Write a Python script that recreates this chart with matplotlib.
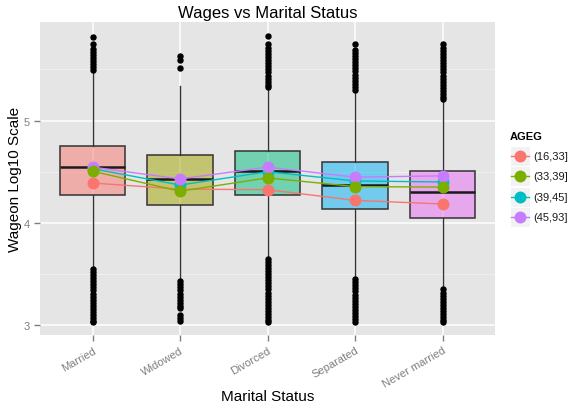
import matplotlib.pyplot as plt
import matplotlib.patches as mpatches
from matplotlib.lines import Line2D

plt.rcParams['font.family'] = ['Liberation Sans', 'DejaVu Sans']

# box statistics per marital status (log10 wage)
status = ["Married", "Widowed", "Divorced", "Separated", "Never married"]
q1 = [4.277, 4.175, 4.277, 4.137, 4.045]
med = [4.544, 4.43, 4.51, 4.37, 4.30]
q3 = [4.755, 4.665, 4.70, 4.60, 4.51]
whislo = [3.57, 3.45, 3.665, 3.46, 3.36]
whishi = [5.47, 5.34, 5.32, 5.28, 5.195]

out_married = [5.82, 5.75, 5.70, 5.67, 5.64, 5.61, 5.58, 5.55, 5.52, 5.49,
               3.55, 3.52, 3.49, 3.46, 3.43, 3.40, 3.37, 3.34, 3.31, 3.28,
               3.25, 3.22, 3.19, 3.16, 3.13, 3.10, 3.07, 3.04, 3.03]
out_widowed = [5.635, 5.59, 5.51,
               3.43, 3.40, 3.37, 3.34, 3.31, 3.28, 3.25, 3.22, 3.19, 3.17,
               3.10, 3.07, 3.04]
out_divorced = [5.825, 5.75, 5.71, 5.68, 5.65, 5.62, 5.59, 5.56, 5.53, 5.50,
                5.47, 5.44, 5.41, 5.38, 5.35, 5.33,
                3.65, 3.62, 3.59, 3.56, 3.53, 3.50, 3.47, 3.44, 3.41, 3.38,
                3.35, 3.32, 3.29, 3.26, 3.23, 3.20, 3.17, 3.14, 3.11, 3.08,
                3.05, 3.03]
out_separated = [5.75, 5.69, 5.66, 5.63, 5.60, 5.57, 5.54, 5.51, 5.48, 5.45,
                 5.42, 5.39, 5.36, 5.33, 5.30,
                 3.45, 3.42, 3.39, 3.36, 3.33, 3.30, 3.27, 3.24, 3.21, 3.18,
                 3.15, 3.12, 3.09, 3.06, 3.03]
out_never = [5.75, 5.71, 5.68, 5.65, 5.62, 5.59, 5.56, 5.53, 5.50, 5.47,
             5.44, 5.41, 5.38, 5.35, 5.32, 5.29, 5.26, 5.23, 5.21,
             3.35, 3.32, 3.29, 3.26, 3.23, 3.20, 3.17, 3.14, 3.11, 3.08,
             3.05, 3.03]
fliers = [out_married, out_widowed, out_divorced, out_separated, out_never]

box_colors = ["#F8766D", "#A3A500", "#00BF7D", "#00B0F6", "#E76BF3"]

# median wage per age group
age_groups = ["(16,33]", "(33,39]", "(39,45]", "(45,93]"]
age_colors = ["#F8766D", "#7CAE00", "#00BFC4", "#C77CFF"]
age_16_33 = [4.39, 4.33, 4.325, 4.22, 4.185]
age_33_39 = [4.505, 4.31, 4.44, 4.355, 4.35]
age_39_45 = [4.53, 4.37, 4.50, 4.41, 4.40]
age_45_93 = [4.545, 4.43, 4.545, 4.447, 4.46]
age_values = [age_16_33, age_33_39, age_39_45, age_45_93]

W, H = 575, 410
fig = plt.figure(figsize=(W / 100, H / 100), dpi=100)
ax = fig.add_axes([40 / W, 1 - 336 / H, 455 / W, (336 - 23.3) / H])
ax.set_facecolor("#E5E5E5")
for s in ax.spines.values():
    s.set_visible(False)

pos = list(range(len(status)))
stats = []
for i in range(len(status)):
    stats.append(dict(med=med[i], q1=q1[i], q3=q3[i], whislo=whislo[i],
                      whishi=whishi[i], fliers=fliers[i]))

bp = ax.bxp(stats, positions=pos, widths=0.75, patch_artist=True,
            showcaps=False, zorder=2,
            boxprops=dict(edgecolor="#333333", linewidth=1.1),
            whiskerprops=dict(color="#333333", linewidth=1.0),
            medianprops=dict(color="#1a1a1a", linewidth=1.8),
            flierprops=dict(marker="o", markerfacecolor="black",
                            markeredgecolor="black", markersize=3.6))
for patch, c in zip(bp["boxes"], box_colors):
    fc = list(plt.matplotlib.colors.to_rgba(c))
    fc[3] = 0.5
    patch.set_facecolor(fc)

for k in [0, 2, 3, 1]:
    ax.plot(pos, age_values[k], color=age_colors[k], lw=1.0,
            marker="o", markersize=8.6, markeredgewidth=0, zorder=4)

ax.set_xlim(-0.6, 4.6)
ax.set_ylim(2.905, 5.96)
ax.set_yticks([3, 4, 5])
ax.set_yticklabels(["3", "4", "5"])
ax.set_yticks([3.5, 4.5, 5.5], minor=True)
ax.set_xticks(pos)
ax.set_xticklabels(status, rotation=30, ha="right", va="top",
                   rotation_mode="anchor")
ax.grid(True, which="major", color="white", linewidth=1.1, zorder=0)
ax.grid(True, which="minor", axis="y", color="#F2F2F2", linewidth=0.6)
ax.set_axisbelow(True)
ax.tick_params(axis="both", which="major", colors="#7F7F7F", length=4,
               width=1, labelsize=8, labelcolor="#7F7F7F")
ax.tick_params(axis="y", which="minor", length=0)
ax.tick_params(axis="x", pad=3)

ax.set_title("Wages vs Marital Status", fontsize=12, pad=4)
ax.set_xlabel("Marital Status", fontsize=11, labelpad=0)
ax.set_ylabel("Wageon Log10 Scale", fontsize=11, labelpad=1)

# legend drawn in pixel units
lax = fig.add_axes([0, 0, 1, 1], facecolor="none")
lax.set_xlim(0, W)
lax.set_ylim(H, 0)
lax.axis("off")
lax.text(510, 137, "AGEG", fontsize=8, fontweight="bold", va="center",
         ha="left")
for i, (lab, c) in enumerate(zip(age_groups, age_colors)):
    yc = 157 + i * 20.3
    lax.add_patch(mpatches.Rectangle((510, yc - 10), 20, 20,
                                     facecolor="#F2F2F2", edgecolor="white",
                                     linewidth=0.8))
    lax.add_line(Line2D([511, 529], [yc, yc], color=c, lw=1.0))
    lax.plot([520], [yc], marker="o", color=c, markersize=8.6,
             markeredgewidth=0)
    lax.text(533, yc, lab, fontsize=8, va="center", ha="left",
             color="#1a1a1a")

fig.savefig("out.png", dpi=100)
